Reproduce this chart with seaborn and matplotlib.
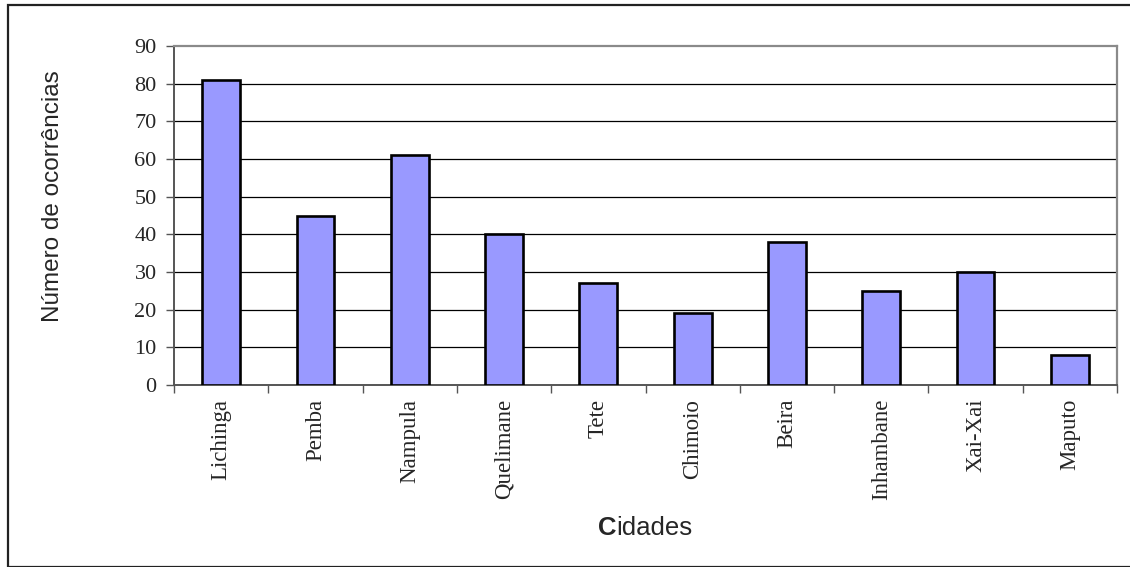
import matplotlib
matplotlib.use("Agg")
import matplotlib.pyplot as plt
import seaborn as sns
import pandas as pd
from matplotlib.patches import Rectangle

cidades = ["Lichinga", "Pemba", "Nampula", "Quelimane", "Tete",
           "Chimoio", "Beira", "Inhambane", "Xai-Xai", "Maputo"]
ocorrencias = [81, 45, 61, 40, 27, 19, 38, 25, 30, 8]
y_ticks = [0, 10, 20, 30, 40, 50, 60, 70, 80, 90]

df = pd.DataFrame({"Cidade": cidades, "Ocorrencias": ocorrencias})

sns.set_style("white")
W, H = 1130, 567
fig = plt.figure(figsize=(W / 100, H / 100), dpi=100)
ax = fig.add_axes([174 / W, 1 - 385 / H, (1117 - 174) / W, (385 - 46) / H])

sns.barplot(data=df, x="Cidade", y="Ocorrencias", ax=ax, color="#9999FF",
            saturation=1, width=0.4, edgecolor="black", linewidth=1.9, zorder=3)

ax.set_ylim(0, 90)
ax.set_xlim(-0.5, len(cidades) - 0.5)
ax.set_yticks(y_ticks)
ax.set_yticklabels([str(v) for v in y_ticks], family="Liberation Serif", fontsize=16)
ax.set_xticks(range(len(cidades)))
ax.set_xticklabels(cidades, rotation=90, family="Liberation Serif", fontsize=16.5)
ax.set_xticks([i - 0.5 for i in range(len(cidades) + 1)], minor=True)
ax.tick_params(axis="x", which="major", length=0, pad=10)
ax.tick_params(axis="x", which="minor", length=5.5, width=1, color="#555555",
               direction="out", bottom=True)
ax.tick_params(axis="y", which="major", length=5.5, width=1, color="#555555",
               direction="out", pad=7, left=True)

for v in y_ticks[1:-1]:
    ax.axhline(v, color="black", linewidth=0.9, zorder=1)

for s in ["top", "right"]:
    ax.spines[s].set_color("#8a8a8a")
    ax.spines[s].set_linewidth(1.6)
for s in ["left", "bottom"]:
    ax.spines[s].set_color("#555555")
    ax.spines[s].set_linewidth(1.4)

ax.set_xlabel("")
ax.set_ylabel("")

fig.text(53 / W, 1 - 196 / H, "Número de ocorrências", rotation=90,
         ha="center", va="center", family="Liberation Sans", fontsize=17.5)

# "Cidades" with bold C
fig.canvas.draw()
r = fig.canvas.get_renderer()
t1 = fig.text(0, 0, "C", family="Liberation Sans", fontsize=18.5, fontweight="bold")
t2 = fig.text(0, 0, "idades", family="Liberation Sans", fontsize=18.5)
w1 = t1.get_window_extent(r).width
w2 = t2.get_window_extent(r).width
cx, cy = 645, 1 - 528 / H
x0 = cx - (w1 + w2) / 2
t1.set_position((x0 / W, cy))
t1.set_va("center")
t2.set_position(((x0 + w1) / W, cy))
t2.set_va("center")

fig.patches.append(Rectangle((8 / W, 0), 1.2, 1 - 5 / H, transform=fig.transFigure,
                             fill=False, edgecolor="#222222", linewidth=1.6))

fig.savefig("out.png", dpi=100)
